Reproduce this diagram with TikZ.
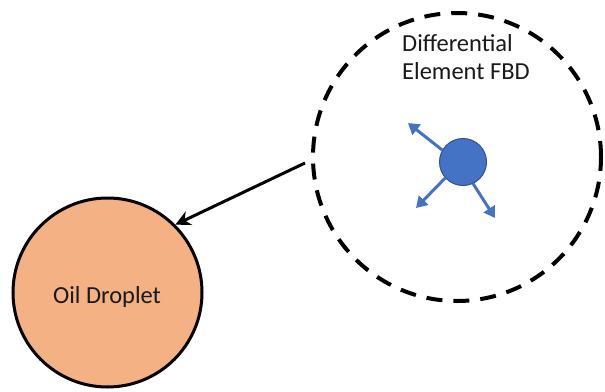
\documentclass[tikz,border=0pt]{standalone}
\usepackage{fontspec}
\setmainfont{Carlito}
\usetikzlibrary{arrows.meta}
\definecolor{dropfill}{HTML}{F4B183}
\definecolor{elemblue}{HTML}{4472C4}
\definecolor{elemedge}{HTML}{2F528F}
\begin{document}
\begin{tikzpicture}[x=1pt,y=-1pt,
  lbl/.style={font=\fontsize{24.5}{28}\selectfont, text=black!90, inner sep=0pt},
  fbdcircle/.style={circle, draw=black, line width=4pt, dash pattern=on 16pt off 11pt, minimum size=288pt, inner sep=0pt},
  droplet/.style={circle, draw=black, line width=3pt, fill=dropfill, minimum size=189pt, inner sep=0pt},
  particle/.style={circle, draw=elemedge, line width=1pt, fill=elemblue, minimum size=47pt, inner sep=0pt},
  force/.style={draw=elemblue, line width=3pt, -{Triangle[length=11pt,width=13pt]}},
  link/.style={draw=black, line width=3pt, -{Stealth[length=15pt,width=15pt]}}]
\useasboundingbox (0,0) rectangle (605,391);
\node[fbdcircle] (fbd) at (457,157) {};
\node[droplet] (drop) at (107.5,292.5) {};
\node[lbl] (droptext) at (107,297) {Oil Droplet};
\node[lbl, align=left, anchor=north west] (fbdtext) at (402,34) {Differential\\Element FBD};
\node[particle] (p) at (463,162) {};
\coordinate (f1) at (408,123);
\coordinate (f2) at (416,208);
\coordinate (f3) at (495,218);
\draw[force] (p.150) -- (f1);
\draw[force] (p.222) -- (f2);
\draw[force] (p.295) -- (f3);
\coordinate (s) at (305,163);
\draw[link] (s) -- (drop.north east);
\end{tikzpicture}
\end{document}
